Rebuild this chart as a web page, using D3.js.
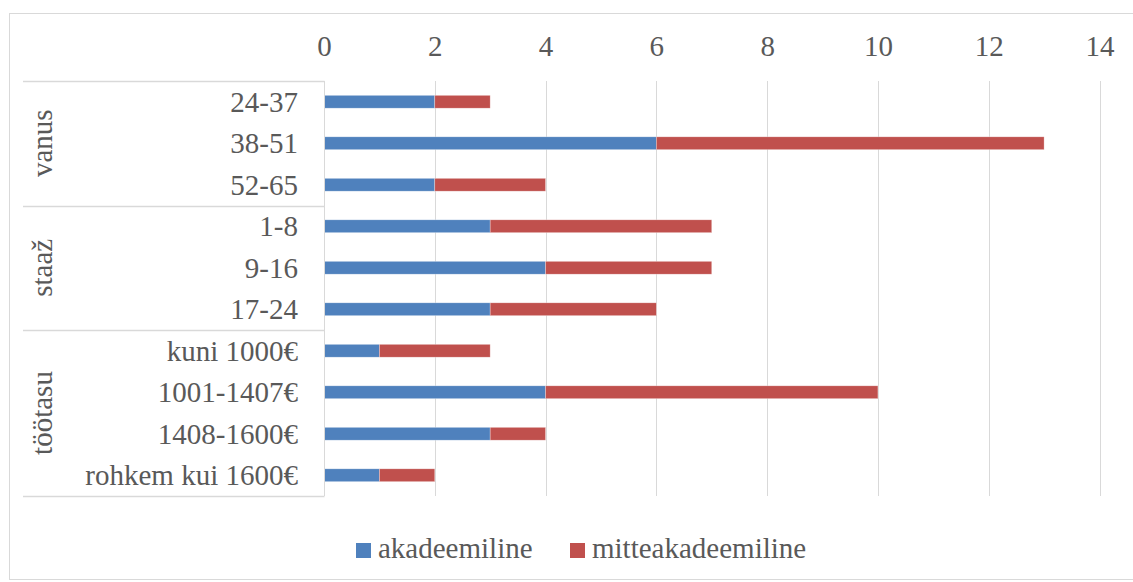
<!DOCTYPE html>
<html>
<head>
<meta charset="utf-8">
<script src="https://cdn.jsdelivr.net/npm/d3@7"></script>
<style>
  body { margin: 0; background: #fff; }
</style>
</head>
<body>
<div class="chart"></div>
<script>
const categories = ['24-37', '38-51', '52-65', '1-8', '9-16', '17-24',
  'kuni 1000€', '1001-1407€', '1408-1600€', 'rohkem kui 1600€'];
const groups = [
  {name: 'vanus', start: 0, end: 3},
  {name: 'staaž', start: 3, end: 6},
  {name: 'töötasu', start: 6, end: 10}
];
const seriesNames = ['akadeemiline', 'mitteakadeemiline'];
const akadeemiline = [2, 6, 2, 3, 4, 3, 1, 4, 3, 1];
const mitteakadeemiline = [1, 7, 2, 4, 3, 3, 2, 6, 1, 1];
const xTicks = [0, 2, 4, 6, 8, 10, 12, 14];
const colors = ['#4f81bd', '#c0504d'];

const W = 1133, H = 582;
const plot = {left: 324, right: 1099.5, top: 81, bottom: 496};
const FONT = '"Liberation Serif", "Times New Roman", serif';
const FS = 29;

const svg = d3.select('.chart')
  .append('svg')
    .attr('width', W)
    .attr('height', H)
    .attr('font-family', FONT)
    .attr('font-size', FS)
    .attr('fill', '#595959');

// outer chart frame
svg.append('rect')
  .attr('x', 9.5).attr('y', 13.5)
  .attr('width', 1140).attr('height', 566)
  .attr('fill', 'none')
  .attr('stroke', '#d9d9d9');

const x = d3.scaleLinear().domain([0, 14]).range([plot.left, plot.right]);
const y = d3.scaleBand().domain(categories).range([plot.top, plot.bottom]).paddingInner(0.69).paddingOuter(0.345);
const band = d3.scaleBand().domain(categories).range([plot.top, plot.bottom]);

// gridlines
svg.append('g')
  .selectAll('line')
  .data(xTicks.slice(1))
  .join('line')
    .attr('x1', d => Math.round(x(d)) + 0.5)
    .attr('x2', d => Math.round(x(d)) + 0.5)
    .attr('y1', plot.top)
    .attr('y2', plot.bottom)
    .attr('stroke', '#d9d9d9');

// top axis labels
const xAxis = d3.axisTop(x).tickValues(xTicks).tickSize(0).tickPadding(0);
const gx = svg.append('g')
  .attr('transform', `translate(0, 56)`)
  .call(xAxis);
gx.attr('font-family', FONT).attr('font-size', FS);
gx.select('.domain').remove();
gx.selectAll('text')
  .attr('dy', 0)
  .attr('fill', '#595959');

// stacked bars
const rows = categories.map((c, i) => ({cat: c, akadeemiline: akadeemiline[i], mitteakadeemiline: mitteakadeemiline[i]}));
const stack = d3.stack().keys(seriesNames)(rows);
svg.append('g')
  .selectAll('g')
  .data(stack)
  .join('g')
    .attr('fill', (d, i) => colors[i])
  .selectAll('rect')
  .data(d => d)
  .join('rect')
    .attr('x', d => x(d[0]))
    .attr('y', d => y(d.data.cat))
    .attr('width', d => x(d[1]) - x(d[0]))
    .attr('height', y.bandwidth())
    .attr('stroke', '#fff')
    .attr('stroke-width', 0.6)
    .attr('stroke-opacity', 0.5);

// category axis lines
svg.append('line')
  .attr('x1', plot.left + 0.5).attr('x2', plot.left + 0.5)
  .attr('y1', plot.top).attr('y2', plot.bottom)
  .attr('stroke', '#d9d9d9');
const bounds = [0, 3, 6, 10];
svg.append('g')
  .selectAll('line')
  .data(bounds)
  .join('line')
    .attr('x1', 23)
    .attr('x2', plot.left + 0.5)
    .attr('y1', d => d < categories.length ? Math.round(band(categories[d])) + 0.5 : plot.bottom + 0.5)
    .attr('y2', d => d < categories.length ? Math.round(band(categories[d])) + 0.5 : plot.bottom + 0.5)
    .attr('stroke', '#d9d9d9')
    .attr('stroke-width', 1.5);

// category labels
svg.append('g')
  .selectAll('text')
  .data(categories)
  .join('text')
    .attr('x', 298)
    .attr('y', d => band(d) + band.bandwidth() / 2 + 10)
    .attr('text-anchor', 'end')
    .text(d => d);

// group labels
svg.append('g')
  .selectAll('text')
  .data(groups)
  .join('text')
    .attr('transform', d => {
      const cy = (band(categories[d.start]) + band(categories[d.end - 1]) + band.bandwidth()) / 2;
      return `translate(52, ${cy}) rotate(-90)`;
    })
    .attr('text-anchor', 'middle')
    .text(d => d.name);

// legend
const legendItems = [{name: seriesNames[0], x: 356}, {name: seriesNames[1], x: 570}];
const lg = svg.append('g')
  .selectAll('g')
  .data(legendItems)
  .join('g')
    .attr('transform', d => `translate(${d.x}, 543)`);
lg.append('rect')
  .attr('width', 15).attr('height', 15)
  .attr('fill', (d, i) => colors[i]);
lg.append('text')
  .attr('x', 22).attr('y', 15)
  .text(d => d.name);
</script>
</body>
</html>
